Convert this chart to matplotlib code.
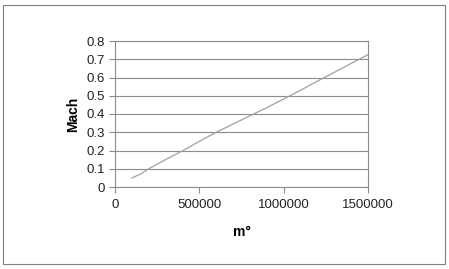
import matplotlib
matplotlib.use('Agg')
import matplotlib.pyplot as plt
from matplotlib.patches import Rectangle

# Datos
mass_flow = [100000, 150000, 200000, 300000, 400000, 500000, 600000, 700000,
             800000, 900000, 1000000, 1100000, 1200000, 1300000, 1400000, 1500000]
mach = [0.05, 0.07, 0.10, 0.15, 0.198, 0.25, 0.30, 0.345,
        0.39, 0.435, 0.482, 0.53, 0.58, 0.628, 0.677, 0.725]
x_ticks = [0, 500000, 1000000, 1500000]
y_ticks = [0, 0.1, 0.2, 0.3, 0.4, 0.5, 0.6, 0.7, 0.8]

plt.rcParams['font.family'] = ['Liberation Sans', 'DejaVu Sans']

fig = plt.figure(figsize=(4.49, 2.69), dpi=100)
fig.patch.set_facecolor('white')

# Marco exterior del grafico
fig.patches.append(Rectangle((3 / 449, 5 / 269), 442 / 449, 259 / 269,
                             transform=fig.transFigure, fill=False,
                             edgecolor='#7f7f7f', linewidth=0.8))

ax = fig.add_axes([115 / 449, 82 / 269, 253 / 449, 146 / 269])
ax.plot(mass_flow, mach, color='#a0a0a0', linewidth=0.9)

ax.set_xlim(0, 1500000)
ax.set_ylim(0, 0.8)
ax.set_xticks(x_ticks)
ax.set_xticklabels([str(v) for v in x_ticks])
ax.set_yticks(y_ticks)
ax.set_yticklabels(['0'] + [f'{v:.1f}' for v in y_ticks[1:]])
ax.grid(axis='y', color='#8c8c8c', linewidth=0.8)
ax.set_axisbelow(True)

for side in ['left', 'bottom', 'right', 'top']:
    ax.spines[side].set_color('#8c8c8c')
    ax.spines[side].set_linewidth(0.8)

ax.tick_params(axis='both', colors='#8c8c8c', labelcolor='#222222',
               labelsize=9.5, length=4, width=0.8)
ax.tick_params(axis='x', pad=5)
ax.tick_params(axis='y', pad=3)

ax.set_xlabel('m°', fontsize=10, fontweight='bold', labelpad=10)
ax.set_ylabel('Mach', fontsize=10, fontweight='bold', labelpad=5)

plt.savefig('out.png', dpi=100)
plt.close()
